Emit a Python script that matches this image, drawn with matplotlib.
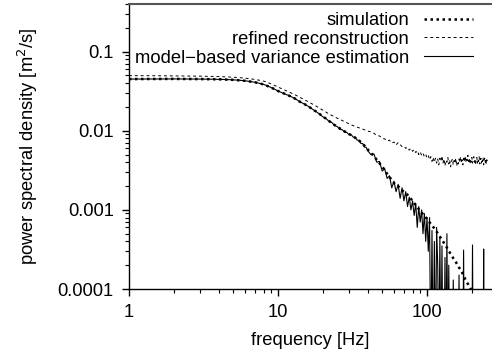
import matplotlib
matplotlib.use("Agg")
import matplotlib.pyplot as plt
from matplotlib.ticker import LogLocator, NullFormatter, FixedLocator, FixedFormatter

plt.rcParams['font.family'] = ['Liberation Sans', 'DejaVu Sans']

# simulation (smooth spectrum)
freq_sim = [1, 2, 3, 4, 5, 6, 7, 8, 9, 10, 11, 12, 13, 14, 15, 16, 17, 18, 19, 20,
            22, 24, 26, 28, 30, 32, 34, 36, 38, 40, 43, 46, 49, 52, 55, 58, 61, 64,
            67, 70, 74, 78, 82, 86, 90, 95, 100, 105, 110, 116, 122, 128, 135, 142,
            149, 156, 163, 170, 178, 186, 194, 202, 210]
psd_sim = [.0450, .0452, .0450, .0447, .0440, .0428, .0410, .0385, .0352, .0318,
           .0295, .0275, .0255, .0233, .0218, .0203, .0188, .0175, .0163, .0152,
           .0133, .0118, .0107, .0098, .0091, .0085, .0078, .0072, .0065, .0058,
           .0050, .0043, .0037, .0032, .0027, .0024, .0021, .0020, .0018, .0017,
           .00155, .00138, .00122, .00108, .00097, .00086, .00077, .00068, .00061,
           .00053, .00046, .00040, .00034, .00029, .00025, .00022, .00019, .00017,
           .00014, .00012, .000105, .00009, .00008]

# shared frequency grid for the two estimates
freq = [1, 1.25, 1.5, 1.75, 2, 2.5, 3, 3.5, 4, 4.5, 5, 5.5, 6, 6.5, 7, 7.5, 8, 8.5,
        9, 9.5, 10, 11, 12, 13, 14, 15, 16, 17, 18, 19, 20, 21, 22, 23, 24, 25, 26,
        27, 28, 29, 30, 31, 32, 33, 34, 35, 36, 37, 38, 39, 40,
        42, 44, 46, 48, 50, 52, 54, 56, 58, 60, 62, 64, 66, 68, 70, 72, 74, 76, 78,
        80, 82, 84, 86, 88, 90, 92, 94, 96, 98, 100,
        102, 104, 106, 108, 110, 112, 114, 116, 118, 120, 122, 124, 126, 128, 130,
        132, 134, 136, 138, 140, 142, 144, 146, 148, 150, 152, 154, 156, 158, 160,
        162, 164, 166, 168, 170, 172, 174, 176, 178, 180, 182, 184, 186, 188, 190,
        192, 194, 196, 198, 200, 202, 204, 206, 208, 210, 212, 214, 216, 218, 220,
        222, 224, 226, 228, 230, 232, 234, 236, 238, 240, 242, 244, 246, 248, 250,
        252, 254, 256]

psd_refined = [
    .0497, .0497, .0496, .0495, .0494, .0492, .0490, .0487, .0484, .0480, .0475,
    .0469, .0462, .0454, .0445, .0435, .0424, .0410, .0390, .0373, .0357, .0330,
    .0306, .0285, .0265, .0248, .0232, .0218, .0205, .0193, .0182, .0172, .0163,
    .0156, .0150, .0144, .0139, .0134, .0130, .0126, .0122, .0119, .0116, .0113,
    .0111, .0109, .0107, .0105, .0103, .0101, .0099,
    .0097, .0093, .0087, .0086, .0080, .0079, .0074, .0076, .0070, .0072, .0066,
    .0071, .0067, .0063, .0064, .0060, .0062, .0057, .0060, .0055, .0058, .0053,
    .0056, .0050, .0054, .0049, .0052, .0047, .0050, .0046,
    .0049, .0043, .0047, .0041, .0046, .0040, .0045, .0039, .0044, .0037, .0045,
    .0041, .0048, .0039, .0044, .0036, .0042, .0040, .0046, .0038, .0043, .0035,
    .0041, .0044, .0037, .0042, .0039, .0045, .0036, .0041, .0038, .0044, .0040,
    .0047, .0039, .0043, .0037, .0045, .0041, .0048, .0040, .0046, .0042, .0049,
    .0041, .0045, .0038, .0044, .0040, .0046, .0039, .0043, .0047, .0040, .0044,
    .0037, .0043, .0046, .0039, .0044, .0041, .0047, .0038, .0043, .0045, .0039,
    .0044, .0041, .0046, .0037, .0042, .0045, .0040, .0044, .0038, .0043, .0041,
    .0039]

psd_model = [
    .0450, .0451, .0452, .0452, .0452, .0451, .0450, .0449, .0447, .0444, .0440,
    .0435, .0428, .0420, .0410, .0398, .0385, .0370, .0352, .0335, .0318, .0295,
    .0275, .0255, .0233, .0218, .0203, .0188, .0175, .0163, .0150, .0143, .0131,
    .0127, .0116, .0113, .0104, .0103, .0096, .0095, .0089, .0089, .0083, .0083,
    .0076, .0076, .0069, .0069, .0062, .0062, .0056,
    .0050, .0051, .0040, .0041, .0031, .0033, .0025, .0027, .0019, .0023, .0017,
    .0021, .0014, .0019, .0013, .0017, .0011, .00145, .0010, .0013, .00085,
    .0012, .0006, .0011, .0007, .0010, .0005, .0009, .0004, .0008,
    .0003, .0008, .00001, .00055, .00001, .0004, .00001, .0006, .0002, .00001,
    .00045, .00001, .00035, .00001, .00001, .00025, .00001, .0005, .00001, .0002,
    .00001, .00001, .00001, .00001, .00013, .00001, .00001, .00001, .00001,
    .00001, .00001, .00015, .00001, .00001, .00001, .00001, .00001, .00031,
    .00001, .00001, .00001, .00001, .00001, .00001, .00001, .00001, .00001,
    .00001, .00001, .00001, .00036, .00001, .00001, .00001, .00001, .00001,
    .00001, .00001, .00001, .00001, .00001, .00001, .00001, .00001, .00001,
    .00001, .00001, .00001, .00001, .00032, .00001, .00001, .00001, .00001,
    .00001, .00001, .00001, .00001]

labels = ["simulation", "refined reconstruction", "model\u2212based variance estimation"]
xticks = [1, 10, 100]
xticklabels = ["1", "10", "100"]
yticks = [0.0001, 0.001, 0.01, 0.1]
yticklabels = ["0.0001", "0.001", "0.01", "0.1"]

fig = plt.figure(figsize=(4.92, 3.53), dpi=100)
ax = fig.add_axes([129 / 492, 64 / 353, 1 - 129 / 492, 285 / 353])

ax.plot(freq_sim, psd_sim, color="black", lw=1.8, linestyle=(0, (1, 1.4)),
        label=labels[0])
ax.plot(freq, psd_refined, color="black", lw=0.7, linestyle=(0, (3, 3)),
        label=labels[1])
ax.plot(freq, psd_model, color="black", lw=0.8, label=labels[2])

ax.set_xscale("log")
ax.set_yscale("log")
ax.set_xlim(1, 273)
ax.set_ylim(0.0001, 0.4)

ax.xaxis.set_major_locator(FixedLocator(xticks))
ax.xaxis.set_major_formatter(FixedFormatter(xticklabels))
ax.xaxis.set_minor_locator(LogLocator(base=10, subs=range(2, 10)))
ax.xaxis.set_minor_formatter(NullFormatter())
ax.yaxis.set_major_locator(FixedLocator(yticks))
ax.yaxis.set_major_formatter(FixedFormatter(yticklabels))
ax.yaxis.set_minor_locator(LogLocator(base=10, subs=range(2, 10)))
ax.yaxis.set_minor_formatter(NullFormatter())

ax.tick_params(which="major", direction="out", length=5, width=1, labelsize=13.2, pad=6)
ax.tick_params(which="minor", direction="out", length=2.8, width=0.8)
ax.tick_params(top=False, right=False, which="both")

ax.spines["right"].set_visible(False)
ax.spines["top"].set_color("#555555")
ax.spines["top"].set_linewidth(1.5)
ax.spines["left"].set_linewidth(1)
ax.spines["bottom"].set_linewidth(1)

ax.set_xlabel("frequency [Hz]", fontsize=13.2, labelpad=8)
ax.set_ylabel("power spectral density [m$^2$/s]", fontsize=13.2, labelpad=13)

leg = ax.legend(loc="upper right", bbox_to_anchor=(473 / 492, 1 - 12 / 353),
                bbox_transform=fig.transFigure, frameon=False, markerfirst=False,
                fontsize=13.2, handlelength=2.7, handletextpad=0.8,
                labelspacing=0.1, borderpad=0, borderaxespad=0)
for t in leg.get_texts():
    t.set_ha("right")
leg._legend_box.align = "right"

fig.savefig("out.png", dpi=100)
